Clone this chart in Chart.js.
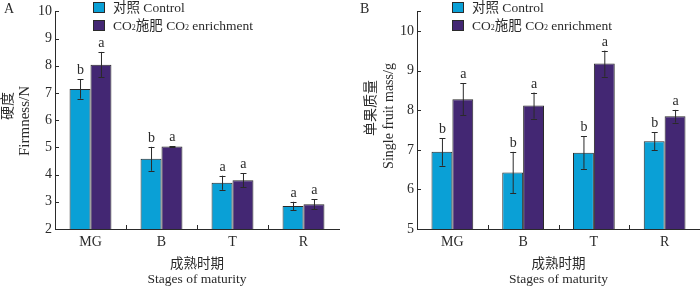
<!DOCTYPE html>
<html><head><meta charset="utf-8">
<script src="https://cdn.jsdelivr.net/npm/chart.js@4/dist/chart.umd.min.js"></script>
<style>
html,body{margin:0;padding:0;background:#fff;}
#wrap{position:relative;width:700px;height:288px;overflow:hidden;}
.c{position:absolute;top:0;width:350px;height:288px;}
</style></head><body>
<div id="wrap"><div class="c" style="left:0"><canvas id="a"></canvas></div><div class="c" style="left:350px"><canvas id="b"></canvas></div></div>
<script>
const categories = ['MG', 'B', 'T', 'R'];
const seriesNames = ['对照 Control', 'CO₂施肥 CO₂ enrichment'];

const firmnessControl = [7.15, 4.58, 3.70, 2.85];
const firmnessControlErr = [0.36, 0.44, 0.26, 0.15];
const firmnessCO2 = [8.04, 5.03, 3.79, 2.91];
const firmnessCO2Err = [0.47, 0.02, 0.26, 0.18];
const firmnessLettersControl = ['b', 'b', 'a', 'a'];
const firmnessLettersCO2 = ['a', 'a', 'a', 'a'];

const massControl = [6.95, 6.43, 6.93, 7.22];
const massControlErr = [0.35, 0.52, 0.41, 0.23];
const massCO2 = [8.28, 8.12, 9.18, 7.85];
const massCO2Err = [0.40, 0.33, 0.33, 0.16];
const massLettersControl = ['b', 'b', 'b', 'b'];
const massLettersCO2 = ['a', 'a', 'a', 'a'];

const firmnessTicks = [2, 3, 4, 5, 6, 7, 8, 9, 10];
const massTicks = [5, 6, 7, 8, 9, 10];

const FONT = '"Liberation Serif","Noto Sans CJK SC",serif';
const COLORS = ['#0aa0d6', '#432773'];
const INK = '#2a2a2a';

function drawRich(ctx, text, x, y, size) {
  const parts = text.split('₂');
  let cx = x;
  parts.forEach((p, i) => {
    ctx.font = size + 'px ' + FONT;
    ctx.fillText(p, cx, y);
    cx += ctx.measureText(p).width;
    if (i < parts.length - 1) {
      ctx.font = Math.round(size * 0.6) + 'px ' + FONT;
      ctx.fillText('2', cx, y + 2);
      cx += ctx.measureText('2').width;
    }
  });
}

const decor = {
  id: 'decor',
  afterDatasetsDraw(chart) {
    const o = chart.options.plugins.decor;
    const ctx = chart.ctx;
    const xs = chart.scales.x, ys = chart.scales.y;
    const area = chart.chartArea;
    ctx.save();
    chart.data.datasets.forEach((ds, di) => {
      const meta = chart.getDatasetMeta(di);
      meta.data.forEach((bar, i) => {
        const v = ds.data[i], e = o.errors[di][i];
        const yt = ys.getPixelForValue(v + e), yb = ys.getPixelForValue(v - e);
        const x = bar.x;
        ctx.strokeStyle = INK; ctx.lineWidth = 1;
        ctx.beginPath();
        ctx.moveTo(x + 0.5, yt); ctx.lineTo(x + 0.5, yb);
        ctx.moveTo(x - 2.5, Math.round(yt) + 0.5); ctx.lineTo(x + 3.5, Math.round(yt) + 0.5);
        ctx.moveTo(x - 2.5, Math.round(yb) + 0.5); ctx.lineTo(x + 3.5, Math.round(yb) + 0.5);
        ctx.stroke();
        ctx.fillStyle = INK;
        ctx.font = '14px ' + FONT;
        ctx.textAlign = 'center'; ctx.textBaseline = 'alphabetic';
        ctx.fillText(o.letters[di][i], x + 0.5, yt - 5);
      });
    });
    ctx.strokeStyle = INK; ctx.lineWidth = 1;
    ctx.beginPath();
    ys.ticks.forEach((t, i) => {
      const y = Math.round(ys.getPixelForTick(i)) + 0.5;
      ctx.moveTo(area.left, y); ctx.lineTo(area.left + 4, y);
    });
    for (let i = 1; i < xs.ticks.length; i++) {
      const x = Math.round((xs.getPixelForTick(i - 1) + xs.getPixelForTick(i)) / 2) + 0.5;
      ctx.moveTo(x, area.bottom); ctx.lineTo(x, area.bottom - 4);
    }
    ctx.stroke();
    ctx.textAlign = 'left'; ctx.textBaseline = 'middle';
    chart.data.datasets.forEach((ds, di) => {
      const by = o.legendY + di * 18;
      ctx.fillStyle = ds.backgroundColor;
      ctx.fillRect(o.legendX, by, 12, 11);
      ctx.strokeStyle = INK;
      ctx.strokeRect(o.legendX + 0.5, by + 0.5, 11, 10);
      ctx.fillStyle = INK;
      drawRich(ctx, ds.label, o.legendX + 20, by + 6, 13.5);
    });
    ctx.font = '14px ' + FONT;
    ctx.textBaseline = 'alphabetic';
    ctx.fillText(o.panel, o.panelX, 13);
    ctx.textAlign = 'center'; ctx.textBaseline = 'middle';
    const cx = (area.left + area.right) / 2;
    ctx.font = '13.5px ' + FONT;
    ctx.fillText('成熟时期', cx, 264);
    ctx.fillText('Stages of maturity', cx, 279);
    o.yTitle.forEach((t, k) => {
      ctx.save();
      ctx.font = o.yTitleSize[k] + 'px ' + FONT;
      ctx.translate(o.yTitleX[k], o.yTitleY[k]);
      ctx.rotate(-Math.PI / 2);
      ctx.fillText(t, 0, 0);
      ctx.restore();
    });
    ctx.restore();
  }
};

function makeChart(id, a, aErr, b, bErr, lettersA, lettersB, tickVals, ymin, ymax, yWidth, rightPad, opts) {
  return new Chart(document.getElementById(id), {
    type: 'bar',
    data: {
      labels: categories,
      datasets: [
        { label: seriesNames[0], data: a, backgroundColor: COLORS[0], borderColor: INK, borderWidth: 1, borderSkipped: 'bottom', categoryPercentage: 0.59, barPercentage: 1 },
        { label: seriesNames[1], data: b, backgroundColor: COLORS[1], borderColor: INK, borderWidth: 1, borderSkipped: 'bottom', categoryPercentage: 0.59, barPercentage: 1 }
      ]
    },
    options: {
      responsive: true, maintainAspectRatio: false, animation: false,
      layout: { padding: { top: 7, left: 0, right: rightPad, bottom: 0 } },
      plugins: {
        legend: { display: false }, tooltip: { enabled: false },
        decor: Object.assign({ errors: [aErr, bErr], letters: [lettersA, lettersB] }, opts)
      },
      scales: {
        x: {
          type: 'category', offset: true,
          grid: { display: false, drawTicks: false },
          border: { display: true, color: INK, width: 1 },
          ticks: { font: { family: FONT, size: 14 }, color: INK, padding: 5, maxRotation: 0 },
          afterFit(s) { s.height = 59; }
        },
        y: {
          min: ymin, max: ymax,
          grid: { display: false, drawTicks: false },
          border: { display: true, color: INK, width: 1 },
          afterBuildTicks(s) {
            const t = tickVals.map(v => ({ value: v }));
            if (tickVals[tickVals.length - 1] < ymax) t.push({ value: ymax });
            s.ticks = t;
          },
          ticks: {
            font: { family: FONT, size: 14 }, color: INK, padding: 3,
            callback: v => (tickVals.includes(v) ? String(v) : '')
          },
          afterFit(s) { s.width = yWidth; }
        }
      }
    },
    plugins: [decor]
  });
}

makeChart('a', firmnessControl, firmnessControlErr, firmnessCO2, firmnessCO2Err,
  firmnessLettersControl, firmnessLettersCO2, firmnessTicks, 2, 10, 55, 11,
  { legendX: 93, legendY: 2, panel: 'A', panelX: 4, yTitle: ['硬度', 'Firmness/N'], yTitleX: [8, 25], yTitleY: [106, 121], yTitleSize: [14, 15] });
makeChart('b', massControl, massControlErr, massCO2, massCO2Err,
  massLettersControl, massLettersCO2, massTicks, 5, 10.5, 67, 0,
  { legendX: 102, legendY: 2, panel: 'B', panelX: 10, yTitle: ['单果质量', 'Single fruit mass/g'], yTitleX: [21, 39], yTitleY: [108, 116], yTitleSize: [14, 14] });
</script>
</body></html>
